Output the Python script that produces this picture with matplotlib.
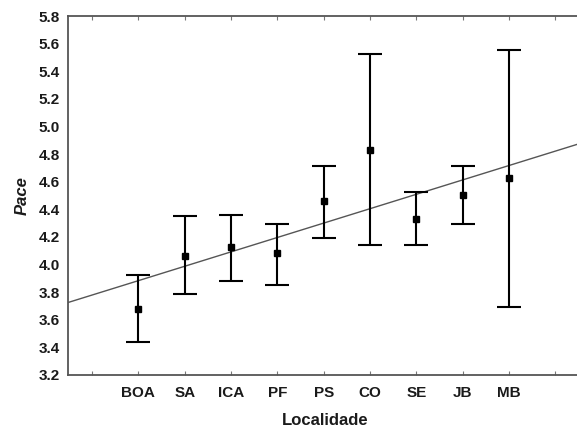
import numpy as np
import matplotlib
matplotlib.use("Agg")
import matplotlib.pyplot as plt

plt.rcParams['font.family'] = ['Liberation Sans', 'DejaVu Sans']

categories = ["BOA", "SA", "ICA", "PF", "PS", "CO", "SE", "JB", "MB"]
means = [3.678, 4.064, 4.130, 4.082, 4.460, 4.830, 4.328, 4.504, 4.625]
upper = [3.925, 4.354, 4.359, 4.294, 4.716, 5.526, 4.526, 4.717, 5.555]
lower = [3.441, 3.785, 3.881, 3.850, 4.190, 4.142, 4.142, 4.294, 3.693]
yticks = [3.2, 3.4, 3.6, 3.8, 4.0, 4.2, 4.4, 4.6, 4.8, 5.0, 5.2, 5.4, 5.6, 5.8]

x = np.arange(1, len(categories) + 1)
m = np.array(means)
err = [m - np.array(lower), np.array(upper) - m]

fig = plt.figure(figsize=(5.77, 4.30), dpi=100)
ax = fig.add_axes([68/577, 1 - 375/430, (583 - 68)/577, (375 - 16)/430])

# regression line through the means
slope, intercept = np.polyfit(x, m, 1)
xl = np.array([-0.6, 11])
ax.plot(xl, intercept + slope * xl, color='#555555', lw=1.0, zorder=1)

ax.errorbar(x, m, yerr=err, fmt='s', color='black', ecolor='black',
            elinewidth=1.5, capsize=8.5, capthick=1.5, markersize=4.5, zorder=3)

ax.set_xlim(-0.52, 10.6)
ax.set_ylim(3.2, 5.8)
ax.set_xticks(np.arange(0, 11))
ax.set_xticklabels([""] + categories + [""])
ax.set_yticks(yticks)
ax.set_yticklabels([f"{v:.1f}" for v in yticks])

for lab in ax.get_xticklabels() + ax.get_yticklabels():
    lab.set_fontweight('bold')
    lab.set_fontsize(11)
    lab.set_color('#1a1a1a')

ax.tick_params(axis='x', direction='in', length=3, top=True, color='#777777', pad=8)
ax.tick_params(axis='y', direction='in', length=0, pad=6)

for s in ax.spines.values():
    s.set_color('#555555')
    s.set_linewidth(1.3)

ax.set_xlabel("Localidade", fontweight='bold', fontsize=12, color='#1a1a1a', labelpad=9)
ax.set_ylabel("Pace", fontweight='bold', fontstyle='italic', fontsize=12, color='#1a1a1a', labelpad=6)

fig.savefig("out.png", dpi=100)
